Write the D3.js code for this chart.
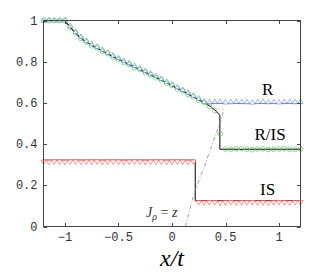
<!DOCTYPE html>
<html><head><meta charset="utf-8">
<script src="https://cdn.jsdelivr.net/npm/d3@7"></script>
<style>body{margin:0;background:#fff}svg{display:block}</style>
</head><body>
<script>
// ---- data ----
const xs = [-1.2,-1.15,-1.1,-1.05,-1.0,-0.95,-0.9,-0.85,-0.8,-0.75,-0.7,-0.65,-0.6,-0.55,-0.5,-0.45,-0.4,-0.35,-0.3,-0.25,-0.2,-0.15,-0.1,-0.05,0.0,0.05,0.1,0.15,0.2,0.25,0.3,0.35,0.4,0.45,0.5,0.55,0.6,0.65,0.7,0.75,0.8,0.85,0.9,0.95,1.0,1.05,1.1,1.15,1.2];
const rValues = [1.0,1.0,1.0,1.0,1.0,0.973,0.945,0.921,0.901,0.885,0.872,0.858,0.844,0.83,0.817,0.804,0.792,0.779,0.767,0.755,0.742,0.73,0.717,0.703,0.69,0.676,0.663,0.649,0.635,0.621,0.605,0.603,0.604,0.605,0.602,0.603,0.605,0.604,0.603,0.601,0.604,0.605,0.603,0.604,0.602,0.604,0.605,0.603,0.604];
const risValues = [1.0,1.0,1.0,1.0,1.0,0.966,0.94,0.913,0.896,0.877,0.867,0.85,0.839,0.822,0.812,0.796,0.787,0.771,0.762,0.747,0.737,0.722,0.712,0.695,0.685,0.668,0.658,0.641,0.63,0.613,0.602,0.583,0.563,0.45,0.376,0.374,0.377,0.378,0.375,0.373,0.376,0.377,0.374,0.375,0.376,0.378,0.375,0.374,0.376];
const isValues = [0.315,0.314,0.316,0.315,0.314,0.315,0.316,0.314,0.315,0.315,0.316,0.314,0.315,0.316,0.315,0.314,0.315,0.316,0.315,0.314,0.315,0.315,0.316,0.314,0.315,0.316,0.315,0.314,0.315,0.118,0.117,0.119,0.118,0.116,0.118,0.119,0.117,0.118,0.118,0.119,0.117,0.118,0.116,0.118,0.119,0.118,0.117,0.118,0.119];

// theory curve (rarefaction part)
const curveX = [-1.2,-1.0,-0.96,-0.92,-0.88,-0.84,-0.80,-0.76,-0.72,-0.68,-0.64,-0.60,-0.56,-0.52,-0.48,-0.44,-0.40,-0.36,-0.32,-0.28,-0.24,-0.20,-0.16,-0.12,-0.08,-0.04,0.00,0.04,0.08,0.12,0.16,0.20,0.24,0.28,0.32,0.36,0.40,0.447];
const curveY = [1.0,1.0,0.972,0.95,0.928,0.91,0.895,0.882,0.871,0.86,0.849,0.838,0.827,0.816,0.806,0.796,0.786,0.776,0.766,0.756,0.746,0.736,0.726,0.716,0.706,0.695,0.684,0.673,0.662,0.651,0.64,0.629,0.618,0.607,0.595,0.582,0.566,0.54];
const rPlateau = 0.597, rPlateauStart = 0.318;
const risJumpX = 0.447, risPlateau = 0.375;
const isJumpX = 0.217, isLeft = 0.322, isRight = 0.125;
// J_rho = z dash-dot curve
const jX = [0.125,0.17,0.217,0.295,0.388,0.44,0.468,0.476,0.47];
const jY = [0.0,0.09,0.175,0.281,0.418,0.49,0.535,0.56,0.578];

const xTicks = [-1,-0.5,0,0.5,1];
const xTickLabels = ["\u22121","\u22120.5","0","0.5","1"];
const yTicks = [0,0.2,0.4,0.6,0.8,1];
const yTickLabels = ["0","0.2","0.4","0.6","0.8","1"];

// ---- layout ----
const W = 332, H = 280;
const L = 43.5, R = 300.5, T = 20.5, B = 226.5;
const svg = d3.select("body").append("svg").attr("width", W).attr("height", H);
const x = d3.scaleLinear().domain([-1.2, 1.2]).range([L, R]);
const y = d3.scaleLinear().domain([0, 1]).range([B, T]);

const blue = "#7592ff", green = "#5cc85c", red = "#ff6464";

// theory lines
const line = d3.line().x(d => x(d[0])).y(d => y(d[1]));
const curve = curveX.map((v, i) => [v, curveY[i]]);
const rTheory = curve.filter(d => d[0] < rPlateauStart).concat([[rPlateauStart, rPlateau], [1.2, rPlateau]]);
const risTheory = curve.concat([[risJumpX, risPlateau], [1.2, risPlateau]]);
const isTheory = [[-1.2, isLeft], [isJumpX, isLeft], [isJumpX, isRight], [1.2, isRight]];

const gTh = svg.append("g").attr("fill", "none").attr("stroke", "#000").attr("stroke-width", 1);
[rTheory, risTheory, isTheory].forEach(p => gTh.append("path").attr("d", line(p)));

svg.append("path").attr("d", d3.line().curve(d3.curveCatmullRom).x(d => x(d[0])).y(d => y(d[1]))(jX.map((v, i) => [v, jY[i]])))
  .attr("fill", "none").attr("stroke", "#888").attr("stroke-width", 0.8).attr("stroke-dasharray", "4,2,1,2");

// markers
const tri = d3.symbol().type(d3.symbolTriangle).size(12)();
const gR = svg.append("g").attr("fill", "#fff").attr("stroke", blue).attr("stroke-width", 0.7);
xs.forEach((v, i) => { if (i < rValues.length) gR.append("path").attr("d", tri).attr("transform", `translate(${x(v)},${y(rValues[i])})`); });
const gI = svg.append("g").attr("fill", "#fff").attr("stroke", red).attr("stroke-width", 0.7);
xs.forEach((v, i) => { if (i < isValues.length) gI.append("path").attr("d", tri).attr("transform", `translate(${x(v)},${y(isValues[i])}) rotate(180)`); });
const gG = svg.append("g").attr("fill", "none").attr("stroke", green).attr("stroke-width", 0.7);
xs.forEach((v, i) => { if (i < risValues.length) gG.append("circle").attr("cx", x(v)).attr("cy", y(risValues[i])).attr("r", 2.4); });

// axes box
const axCol = "#444";
svg.append("rect").attr("x", L).attr("y", T).attr("width", R - L).attr("height", B - T)
  .attr("fill", "none").attr("stroke", axCol).attr("stroke-width", 1);
const tl = 3.5;
const gT = svg.append("g").attr("stroke", axCol).attr("stroke-width", 1);
xTicks.forEach(t => {
  const px = Math.round(x(t)) + 0.5;
  gT.append("line").attr("x1", px).attr("x2", px).attr("y1", B).attr("y2", B - tl);
  gT.append("line").attr("x1", px).attr("x2", px).attr("y1", T).attr("y2", T + tl);
});
yTicks.forEach(t => {
  const py = Math.round(y(t)) + 0.5;
  gT.append("line").attr("x1", L).attr("x2", L + tl).attr("y1", py).attr("y2", py);
  gT.append("line").attr("x1", R).attr("x2", R - tl).attr("y1", py).attr("y2", py);
});
const mono = "'Liberation Mono','DejaVu Sans Mono',monospace";
svg.append("g").selectAll("text").data(xTicks).join("text")
  .attr("x", d => x(d)).attr("y", B + 14).attr("text-anchor", "middle")
  .attr("font-family", mono).attr("font-size", 12).attr("fill", "#333")
  .text((d, i) => xTickLabels[i]);
svg.append("g").selectAll("text").data(yTicks).join("text")
  .attr("x", L - 6).attr("y", d => y(d) + 4).attr("text-anchor", "end")
  .attr("font-family", mono).attr("font-size", 12).attr("fill", "#333")
  .text((d, i) => yTickLabels[i]);

// labels
const serif = "'Liberation Serif','DejaVu Serif',serif";
const lab = (txt, xv, yv, fs) => svg.append("text").attr("x", x(xv)).attr("y", y(yv)).attr("text-anchor", "middle")
  .attr("font-family", serif).attr("font-size", fs).attr("fill", "#000").text(txt);
lab("R", 0.893, 0.637, 17);
lab("R/IS", 0.916, 0.418, 17);
lab("IS", 0.893, 0.151, 17);

const jt = svg.append("text").attr("x", x(0.05)).attr("y", y(0.045)).attr("text-anchor", "end")
  .attr("font-family", serif).attr("font-size", 14).attr("fill", "#333");
jt.append("tspan").attr("font-style", "italic").text("J");
jt.append("tspan").attr("font-style", "italic").attr("font-size", 10).attr("dy", 3).text("\u03C1");
jt.append("tspan").attr("dy", -3).text(" = ");
jt.append("tspan").attr("font-style", "italic").text("z");

const xl = svg.append("text").attr("x", (L + R) / 2).attr("y", 266).attr("text-anchor", "middle")
  .attr("font-family", serif).attr("font-size", 24).attr("font-style", "italic").attr("fill", "#000");
xl.text("x/t");
</script>
</body></html>
